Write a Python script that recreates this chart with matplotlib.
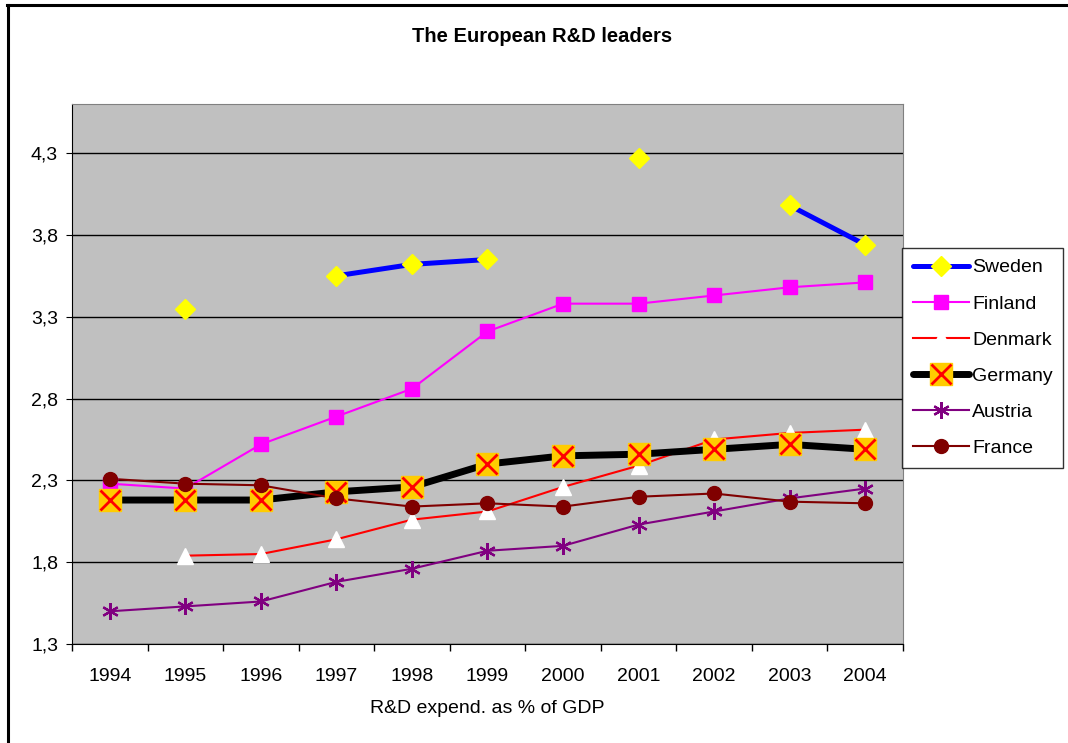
#%%
# The European R&D leaders - R&D expenditure as % of GDP
import numpy as np
import matplotlib.pyplot as plt
from matplotlib.lines import Line2D
from matplotlib.ticker import FuncFormatter

plt.rcParams['font.family'] = ['Liberation Sans', 'DejaVu Sans']

#%%
# dados (nan = sem valor)
years = ['1994', '1995', '1996', '1997', '1998', '1999', '2000', '2001', '2002', '2003', '2004']
nan = np.nan
sweden = [nan, 3.35, nan, 3.55, 3.62, 3.65, nan, 4.27, nan, 3.98, 3.74]
finland = [2.28, 2.25, 2.52, 2.69, 2.86, 3.21, 3.38, 3.38, 3.43, 3.48, 3.51]
denmark = [nan, 1.84, 1.85, 1.94, 2.06, 2.11, 2.26, 2.39, 2.55, 2.59, 2.61]
germany = [2.18, 2.18, 2.18, 2.23, 2.26, 2.40, 2.45, 2.46, 2.49, 2.52, 2.49]
austria = [1.50, 1.53, 1.56, 1.68, 1.76, 1.87, 1.90, 2.03, 2.11, 2.19, 2.25]
france = [2.31, 2.28, 2.27, 2.19, 2.14, 2.16, 2.14, 2.20, 2.22, 2.17, 2.16]
yticks = [1.3, 1.8, 2.3, 2.8, 3.3, 3.8, 4.3]

#%%
fig = plt.figure(figsize=(10.68, 7.43), dpi=100)
ax = fig.add_axes([0.0674, 0.1332, 0.7781, 0.7268])
ax.set_facecolor('#c0c0c0')
x = np.arange(len(years))

# linhas primeiro, marcadores por cima (como no Excel)
l_swe, = ax.plot(x, sweden, color='blue', lw=3.6, zorder=2, solid_capstyle='round')
l_fin, = ax.plot(x, finland, color='#ff00ff', lw=1.5, zorder=2)
l_den, = ax.plot(x, denmark, color='red', lw=1.5, zorder=2)
l_ger, = ax.plot(x, germany, color='black', lw=5, zorder=2, solid_capstyle='round')
l_aus, = ax.plot(x, austria, color='purple', lw=1.5, zorder=2)
l_fra, = ax.plot(x, france, color='#800000', lw=1.5, zorder=2)

m_swe, = ax.plot(x, sweden, ls='none', marker='D', ms=10, mfc='yellow', mec='yellow', zorder=3)
m_fin, = ax.plot(x, finland, ls='none', marker='s', ms=10, mfc='#ff00ff', mec='#ff00ff', zorder=3)
m_den, = ax.plot(x, denmark, ls='none', marker='^', ms=11, mfc='white', mec='white', zorder=3)
m_ger, = ax.plot(x, germany, ls='none', marker='s', ms=16.5, mfc='#ffcc00', mec='#ffcc00', zorder=3)
m_gx, = ax.plot(x, germany, ls='none', marker='x', ms=15, mec='red', mew=2, zorder=3)
m_aus, = ax.plot(x, austria, ls='none', marker=(6, 2, 0), ms=12, mec='purple', mew=1.6, zorder=3)
m_fra, = ax.plot(x, france, ls='none', marker='o', ms=10, mfc='#800000', mec='#800000', zorder=3)

#%%
ax.set_xlim(-0.5, len(years) - 0.5)
ax.set_ylim(1.3, 4.6)
ax.set_xticks(x)
ax.set_xticklabels(years, fontsize=14)
ax.set_xticks(np.arange(-0.5, len(years)), minor=True)
ax.tick_params(axis='x', which='major', length=0, pad=17)
ax.tick_params(axis='x', which='minor', length=5, width=1, direction='out')
ax.set_yticks(yticks)
ax.yaxis.set_major_formatter(FuncFormatter(lambda v, p: f'{v:.1f}'.replace('.', ',')))
ax.tick_params(axis='y', length=4, labelsize=14, pad=6)
ax.grid(axis='y', color='black', lw=1)
ax.set_axisbelow(True)
for s in ['top', 'right']:
    ax.spines[s].set_color('#808080')
for s in ['left', 'bottom']:
    ax.spines[s].set_color('black')

fig.text(0.508, 0.951, 'The European R&D leaders', ha='center', va='center',
         fontsize=14.5, fontweight='bold')
fig.text(0.456, 0.047, 'R&D expend. as % of GDP', ha='center', va='center', fontsize=14)

handles = [(l_swe, m_swe), (l_fin, m_fin), (l_den, m_den), (l_ger, m_ger, m_gx),
           (l_aus, m_aus), (l_fra, m_fra)]
labels = ['Sweden', 'Finland', 'Denmark', 'Germany', 'Austria', 'France']
leg = ax.legend(handles, labels, loc='upper left', bbox_to_anchor=(0.8446, 0.666),
                bbox_transform=fig.transFigure, fontsize=14, frameon=True, fancybox=False,
                edgecolor='black', handlelength=2.9, handletextpad=0.15, labelspacing=0.95,
                borderpad=0.55, borderaxespad=0)
leg.get_frame().set_linewidth(1)

# moldura do gráfico: só à esquerda e em cima
fig.add_artist(Line2D([0.0075, 0.0075], [0, 0.9933], transform=fig.transFigure,
                      color='black', lw=2.2))
fig.add_artist(Line2D([0.0062, 1], [0.9933, 0.9933], transform=fig.transFigure,
                      color='black', lw=2.2))

fig.savefig('out.png', dpi=100)
